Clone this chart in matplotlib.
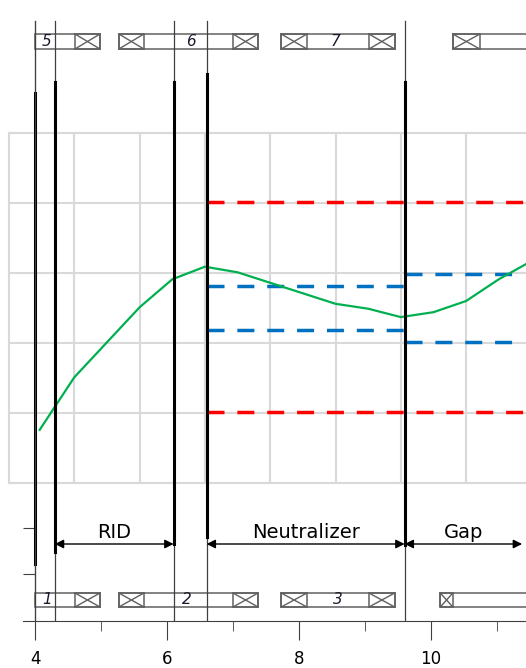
import matplotlib
matplotlib.use("Agg")
import matplotlib.pyplot as plt
from matplotlib.patches import Rectangle

# ----------------------------
# Beam line layout (m)
# ----------------------------
boundaries = [4.0, 4.3, 6.1, 6.6, 9.6]

regions = ["RID", "Neutralizer", "Gap"]
region_start = [4.3, 6.6, 9.6]
region_end = [6.1, 9.6, 11.38]

# coils: start, end, width of crossed end blocks, label, label position
top_start = [4.0, 5.27, 7.73, 10.33]
top_end = [4.985, 7.38, 9.45, 11.6]
top_cross_l = [0.0, 0.38, 0.39, 0.41]
top_cross_r = [0.38, 0.38, 0.39, 0.0]
top_labels = ["5", "6", "7", ""]
top_label_x = [4.18, 6.36, 8.55, 0.0]

bot_start = [4.0, 5.27, 7.73, 10.14]
bot_end = [4.985, 7.38, 9.45, 11.6]
bot_cross_l = [0.0, 0.38, 0.39, 0.19]
bot_cross_r = [0.38, 0.38, 0.39, 0.0]
bot_labels = ["1", "2", "3", ""]
bot_label_x = [4.18, 6.30, 8.59, 0.0]

# ----------------------------
# Field profile panel
# ----------------------------
z = [0.47, 1.0, 2.0, 2.5, 3.0, 3.5, 5.0, 5.5, 6.0, 6.5, 7.0, 7.5, 8.0]
field = [0.76, 1.51, 2.51, 2.91, 3.09, 3.01, 2.56, 2.49, 2.37, 2.44, 2.60, 2.91, 3.17]

red_limits = [4.02, 1.02]
red_span = [3.03, 8.0]
blue_left = [2.82, 2.19]
blue_left_span = [3.03, 6.06]
blue_right = [2.99, 2.02]
blue_right_span = [6.06, 7.74]

W, H = 526, 668
fig = plt.figure(figsize=(W / 100, H / 100), dpi=100)

# schematic axes (y in layout units)
ax = fig.add_axes([0, 47 / H, 1, 621 / H])
ax.set_xlim(3.4697, 11.439)
ax.set_ylim(0, 621)
ax.set_zorder(2)
ax.patch.set_visible(False)

# field panel
ax2 = fig.add_axes([9 / W, 185 / H, 1 - 9 / W, 350 / H])
ax2.set_zorder(1)
ax2.set_xlim(0, 517 / 65.3)
ax2.set_ylim(0, 5)
ax2.set_xticks(range(0, 8))
ax2.set_yticks(range(0, 6))
ax2.tick_params(length=0, labelbottom=False, labelleft=False)
ax2.grid(True, color="#d9d9d9", lw=1.5)
for s in ["top", "left", "bottom"]:
    ax2.spines[s].set_color("#d9d9d9")
    ax2.spines[s].set_linewidth(1.5)
ax2.spines["right"].set_visible(False)

dash = (4.9, 3.7)
for v in red_limits:
    ax2.plot(red_span, [v, v], color="#ff0000", lw=2.5, dashes=dash, solid_capstyle="butt")
for v in blue_left:
    ax2.plot(blue_left_span, [v, v], color="#0070c0", lw=2.5, dashes=dash)
for v in blue_right:
    ax2.plot(blue_right_span, [v, v], color="#0070c0", lw=2.5, dashes=dash)
ax2.plot(z, field, color="#00b050", lw=1.6)

# ----------------------------
# boundaries
# ----------------------------
thick_top = [528, 539, 539, 547, 539]
thick_bot = [57, 69, 77, 84, 76]
for xb, t, b in zip(boundaries, thick_top, thick_bot):
    ax.plot([xb, xb], [0, 600], color="#404040", lw=0.9)
    ax.plot([xb, xb], [b, t], color="black", lw=2.2)

# region arrows
for name, x0, x1 in zip(regions, region_start, region_end):
    ax.annotate("", xy=(x1, 77), xytext=(x0, 77),
                arrowprops=dict(arrowstyle="<|-|>", color="black", lw=1,
                                mutation_scale=13, shrinkA=0, shrinkB=0))
    ax.text((x0 + x1) / 2, 88, name, ha="center", va="center",
            fontsize=14, family="DejaVu Sans")


# coils
def draw_coils(starts, ends, cl, cr, labels, lx, y0, h):
    for s, e, a, b, lab, px in zip(starts, ends, cl, cr, labels, lx):
        ax.add_patch(Rectangle((s, y0), e - s, h, fill=False, ec="#606060", lw=1.1))
        for c0, c1 in [(s, s + a), (e - b, e)]:
            if c1 - c0 <= 0:
                continue
            ax.add_patch(Rectangle((c0, y0), c1 - c0, h, fill=False, ec="#606060", lw=1.1))
            ax.plot([c0, c1], [y0, y0 + h], color="#606060", lw=1)
            ax.plot([c0, c1], [y0 + h, y0], color="#606060", lw=1)
        if lab:
            ax.text(px, y0 + h / 2, lab, ha="center", va="center",
                    fontsize=11, style="italic", color="#1a1a2e")


draw_coils(top_start, top_end, top_cross_l, top_cross_r, top_labels, top_label_x, 572, 15)
draw_coils(bot_start, bot_end, bot_cross_l, bot_cross_r, bot_labels, bot_label_x, 14, 14)

# ----------------------------
# axes styling
# ----------------------------
ax.spines["top"].set_visible(False)
ax.spines["right"].set_visible(False)
ax.spines["left"].set_position(("data", 4.0))
ax.spines["left"].set_bounds(0, 600)
ax.spines["bottom"].set_bounds(3.82, 11.44)
for s in ["left", "bottom"]:
    ax.spines[s].set_color("#404040")

ax.set_xticks([4, 6, 8, 10])
ax.set_xticks([5, 7, 9, 11], minor=True)
ax.set_yticks([47, 93])
ax.set_yticklabels([])
ax.tick_params(axis="x", which="major", length=13.7, direction="out", color="#404040", labelsize=12, pad=7)
ax.tick_params(axis="x", which="minor", length=7, direction="out", color="#404040")
ax.tick_params(axis="y", length=8.6, direction="out", color="#404040")

fig.savefig("out.png", dpi=100)
